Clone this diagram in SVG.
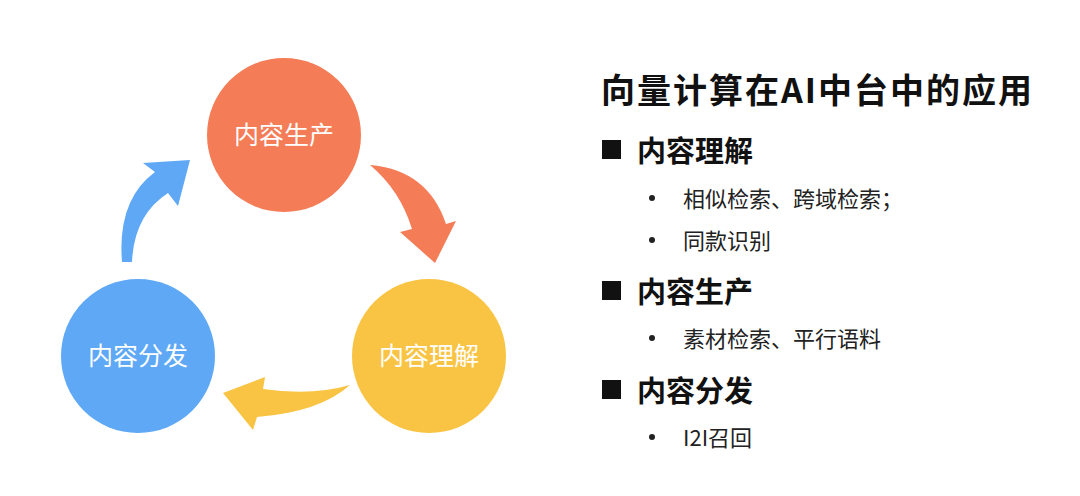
<svg xmlns="http://www.w3.org/2000/svg" width="1080" height="496" viewBox="0 0 1080 496">
<style>
text{font-family:"Noto Sans CJK SC","Noto Sans",sans-serif;}
.cl{fill:#fff;font-size:25px;text-anchor:middle;}
.t{font-size:34px;font-weight:bold;fill:#111;letter-spacing:2px;}
.h{font-size:29px;font-weight:bold;fill:#111;}
.s{font-size:22px;fill:#222;}
</style>
<rect width="1080" height="496" fill="#fff"/>
<g id="connectors">
<path d="M370,165 Q428,170 446,224 L456,221 L435,263 L400,232 L412,229 Q400,190 370,165 Z" fill="#F47C56"/>
<path d="M122,262 Q117,200 155,172 L143,163 L190,160 L178,206 L168,193 Q134,215 132,262 Z" fill="#5EA8F5"/>
<path d="M350,385 Q320,412 257,417 L253,430 L223,393 L265,377 L263,389 Q312,396 350,385 Z" fill="#F9C443"/>
</g>
<g id="n1"><circle cx="284" cy="135" r="77" fill="#F47C56"/><text class="cl" x="284" y="144">内容生产</text></g>
<g id="n2"><circle cx="429" cy="356" r="77" fill="#F9C443"/><text class="cl" x="429" y="365">内容理解</text></g>
<g id="n3"><circle cx="138" cy="356" r="77" fill="#5EA8F5"/><text class="cl" x="138" y="365">内容分发</text></g>
<g id="text">
<text class="t" x="601" y="103">向量计算在AI中台中的应用</text>
<rect x="602" y="140" width="19" height="19" fill="#111"/>
<text class="h" x="637" y="162">内容理解</text>
<circle cx="652" cy="198" r="3" fill="#222"/><text class="s" x="683" y="207">相似检索、跨域检索；</text>
<circle cx="652" cy="240" r="3" fill="#222"/><text class="s" x="683" y="249">同款识别</text>
<rect x="602" y="281" width="19" height="19" fill="#111"/>
<text class="h" x="637" y="303">内容生产</text>
<circle cx="652" cy="338" r="3" fill="#222"/><text class="s" x="683" y="347">素材检索、平行语料</text>
<rect x="602" y="380" width="19" height="19" fill="#111"/>
<text class="h" x="637" y="402">内容分发</text>
<circle cx="652" cy="437" r="3" fill="#222"/><text class="s" x="683" y="446">I2I召回</text>
</g>
</svg>
